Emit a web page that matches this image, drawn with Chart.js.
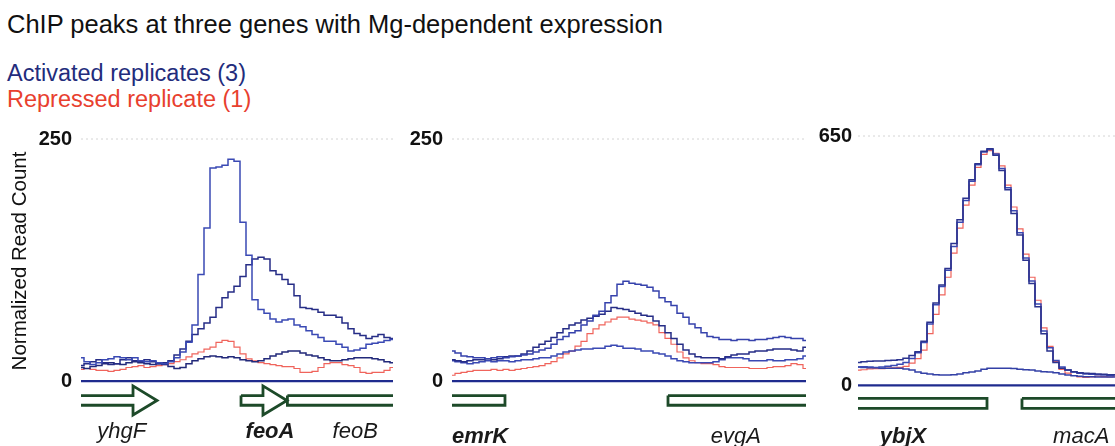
<!DOCTYPE html>
<html>
<head>
<meta charset="utf-8">
<script src="https://cdn.jsdelivr.net/npm/chart.js@4.4.1/dist/chart.umd.min.js"></script>
<style>
  html, body { margin: 0; padding: 0; background: #fff; }
  body { width: 1115px; height: 446px; position: relative; overflow: hidden; font-family: "Liberation Sans", Arial, Helvetica, sans-serif; }
  #title { position: absolute; left: 7px; top: 9px; font-size: 25.5px; line-height: 30px; color: #111; white-space: nowrap; }
  #legend { position: absolute; left: 7px; top: 60px; font-size: 23.5px; line-height: 26px; white-space: nowrap; }
  .act { color: #232c7c; }
  .rep { color: #e8402e; }
  canvas { position: absolute; top: 120px; }
</style>
</head>
<body>
<div id="title">ChIP peaks at three genes with Mg-dependent expression</div>
<div id="legend">
  <div class="act">Activated replicates (3)</div>
  <div class="rep">Repressed replicate (1)</div>
</div>
<canvas id="c1" width="400" height="326" style="left:0px"></canvas>
<canvas id="c2" width="415" height="326" style="left:400px"></canvas>
<canvas id="c3" width="320" height="326" style="left:800px"></canvas>
<script>
/* ChIP read counts, one value per sample bin */

// feoA region (bins 0..52)
const feoAct1 = [24, 20, 17, 19, 22, 23, 25, 24, 22, 24, 21, 20, 21, 19, 18, 20,
    24, 30, 40, 58, 110, 158, 220, 221, 223, 229, 227, 164, 130, 84, 74, 70, 64, 61, 63, 64,
    58, 56, 52, 48, 45, 41, 41, 38, 35, 31, 32, 34, 38, 39, 40, 42, 43];
const feoAct2 = [16, 18, 20, 22, 19, 17, 18, 22, 24, 21, 20, 22, 20, 18, 19, 21,
    27, 33, 41, 48, 54, 60, 66, 76, 86, 92, 98, 108, 120, 126, 128, 126, 114, 110, 105, 100,
    88, 76, 75, 74, 71, 68, 68, 66, 60, 54, 49, 47, 44, 46, 48, 45, 44];
const feoAct3 = [14, 13, 15, 16, 18, 19, 18, 17, 19, 20, 19, 18, 17, 18, 17, 15,
    13, 14, 18, 21, 23, 25, 26, 25, 24, 25, 24, 22, 21, 20, 21, 23, 26, 28, 30, 31,
    31, 29, 27, 26, 24, 22, 21, 21, 22, 23, 24, 24, 24, 23, 22, 20, 19];
const feoRep = [12, 13, 12, 11, 11, 10, 11, 12, 14, 15, 16, 14, 15, 16, 17, 18,
    20, 22, 25, 28, 30, 33, 35, 40, 42, 41, 35, 28, 23, 21, 19, 18, 17, 16, 15, 15,
    13, 9, 9, 10, 14, 18, 19, 19, 17, 16, 14, 9, 8, 9, 9, 11, 14];

// emrK region (bins 0..59)
const emrAct1 = [31, 29, 26, 25, 24, 24, 23, 24, 25, 24, 25, 26, 27, 28, 30, 32, 34, 38, 43, 46,
    50, 52, 58, 62, 68, 72, 81, 88, 100, 103, 101, 100, 99, 97, 93, 86, 82, 78, 70, 66,
    59, 55, 50, 46, 45, 43, 43, 42, 43, 43, 42, 43, 43, 44, 45, 46, 45, 44, 44, 42];
const emrAct2 = [22, 21, 20, 21, 22, 22, 23, 22, 23, 25, 26, 26, 28, 31, 35, 38, 41, 45, 50, 54,
    58, 60, 63, 65, 67, 69, 72, 76, 75, 74, 72, 70, 68, 67, 62, 57, 50, 44, 38, 32,
    28, 25, 24, 24, 24, 23, 25, 27, 28, 28, 30, 31, 31, 32, 33, 33, 33, 32, 31, 35];
const emrAct3 = [21, 20, 19, 18, 19, 20, 21, 20, 21, 21, 20, 21, 22, 22, 23, 24, 24, 26, 28, 30,
    31, 32, 33, 33, 34, 34, 36, 37, 36, 34, 34, 33, 31, 31, 29, 28, 26, 23, 21, 20,
    19, 19, 19, 19, 20, 22, 24, 24, 24, 23, 21, 21, 21, 22, 21, 21, 22, 22, 23, 26];
const emrRep = [6, 8, 9, 10, 11, 11, 11, 12, 11, 12, 11, 12, 13, 14, 15, 16, 18, 20, 24, 28,
    31, 36, 41, 49, 54, 58, 61, 64, 66, 66, 64, 63, 62, 60, 58, 50, 44, 38, 30, 24,
    21, 19, 18, 18, 17, 15, 14, 14, 14, 14, 13, 13, 13, 14, 15, 15, 16, 18, 17, 13];

// ybjX region (bins 0..43)
const ybjAct1 = [60, 62, 63, 64, 64, 65, 66, 67, 71, 78, 88, 115, 165, 215, 262, 305, 370, 432, 488, 536,
    578, 610, 617, 600, 560, 510, 448, 392, 326, 266, 205, 135, 90, 60, 45, 40, 36, 33, 32, 31,
    30, 29, 28, 28];
const ybjAct2 = [48, 49, 48, 47, 48, 50, 52, 55, 60, 70, 85, 112, 160, 210, 258, 300, 362, 425, 482, 532,
    575, 608, 615, 603, 565, 515, 455, 398, 332, 272, 212, 142, 98, 65, 48, 40, 35, 32, 30, 29,
    28, 27, 26, 27];
const ybjAct3 = [48, 47, 46, 46, 45, 45, 45, 45, 43, 40, 35, 32, 30, 28, 27, 27, 28, 30, 33, 35,
    38, 42, 45, 45, 45, 45, 44, 42, 41, 40, 38, 36, 35, 33, 30, 27, 25, 24, 23, 23,
    22, 22, 22, 22];
const ybjRep = [40, 41, 43, 44, 44, 45, 46, 47, 50, 58, 70, 92, 135, 185, 236, 282, 345, 410, 470, 522,
    568, 602, 612, 605, 572, 522, 465, 408, 342, 282, 222, 150, 102, 62, 42, 32, 26, 22, 21, 22,
    24, 23, 22, 24];

// y axis top values
const yTops = [250, 250, 650];

// genes (start / end in bins, beyond the panel = runs off the edge)
const feoGenes = ['yhgF', 'feoA', 'feoB'];
const feoGeneStart = [-5, 26.67, 34.4];
const feoGeneEnd = [12.67, 34.33, 70];
const emrGenes = ['emrK', 'evgA'];
const emrGeneStart = [-10, 36];
const emrGeneEnd = [8.83, 80];
const ybjGenes = ['ybjX', 'macA'];
const ybjGeneStart = [-10, 27.33];
const ybjGeneEnd = [21.5, 60];
const targetGenes = ['feoA', 'emrK', 'ybjX'];

const FONT = '"Liberation Sans", Arial, Helvetica, sans-serif';
const RED = '#f0645c';

// outline of one gene on the track axis
function genePath(start, end, arrow, xMax, tr) {
    const s = Math.max(start, 0);
    const e = Math.min(end, xMax);
    const pts = [{ x: s, y: tr.top }];
    if (arrow) {
        const h = end - tr.head;
        pts.push({ x: h, y: tr.top }, { x: h, y: tr.headTop }, { x: end, y: tr.mid },
                 { x: h, y: tr.headBot }, { x: h, y: tr.bot });
    } else if (end <= xMax) {
        pts.push({ x: e, y: tr.top }, { x: e, y: tr.bot });
    } else {
        pts.push({ x: e, y: tr.top }, { x: e, y: null }, { x: e, y: tr.bot });
    }
    pts.push({ x: s, y: tr.bot });
    if (start >= 0) pts.push({ x: s, y: tr.top });
    return pts;
}

// gene names under the track
const geneLabels = {
    id: 'geneLabels',
    afterDraw(chart, args, opts) {
        const ctx = chart.ctx;
        const xs = chart.scales.x;
        ctx.save();
        ctx.fillStyle = '#1a1a1a';
        ctx.textAlign = 'center';
        ctx.textBaseline = 'alphabetic';
        opts.names.forEach((name, i) => {
            const bold = targetGenes.includes(name);
            ctx.font = (bold ? 'italic bold ' : 'italic ') + '22px ' + FONT;
            ctx.fillText(name, xs.getPixelForValue(opts.at[i]), chart.chartArea.bottom + opts.dy);
        });
        ctx.restore();
    }
};

function makePanel(id, p) {
    const xMax = p.series[0].length - 1;
    const datasets = [];

    p.series.forEach((vals, k) => {
        datasets.push({
            data: vals.map((v, i) => ({ x: i, y: v })),
            borderColor: p.colors[k],
            borderWidth: k === p.series.length - 1 ? 1.2 : 1.5,
            stepped: 'middle',
            pointRadius: 0
        });
    });

    // zero line and dotted top line
    datasets.push({
        data: [{ x: 0, y: 0 }, { x: xMax, y: 0 }],
        borderColor: '#1f2b8e', borderWidth: 2.2, pointRadius: 0, clip: false
    });
    datasets.push({
        data: [{ x: 0, y: p.yMax }, { x: xMax, y: p.yMax }],
        borderColor: '#d4d4d4', borderWidth: 1, borderDash: [2, 3], pointRadius: 0, clip: false
    });

    p.genes.forEach((name, i) => {
        datasets.push({
            data: genePath(p.start[i], p.end[i], p.arrows[i], xMax, p.track),
            yAxisID: 'gy',
            borderColor: '#1d4a29', borderWidth: 2.8, pointRadius: 0,
            clip: false, spanGaps: false
        });
    });

    return new Chart(document.getElementById(id).getContext('2d'), {
        type: 'line',
        data: { datasets: datasets },
        options: {
            responsive: false,
            animation: false,
            events: [],
            layout: { padding: p.pad },
            scales: {
                x: { type: 'linear', min: 0, max: xMax, display: false },
                y: {
                    min: p.yMin, max: p.yMax,
                    afterBuildTicks: (s) => { s.ticks = [{ value: 0 }, { value: p.yMax }]; },
                    afterFit: (s) => { s.width = p.axisW; },
                    grid: { display: false, drawTicks: false },
                    border: { display: false },
                    ticks: {
                        padding: p.tickPad, color: '#111',
                        font: { family: FONT, size: 20, weight: 'bold', lineHeight: 1 }
                    },
                    title: {
                        display: !!p.yTitle, text: p.yTitle || '', color: '#111',
                        padding: { top: 8, bottom: 0 },
                        font: { family: FONT, size: 20.5 }
                    }
                },
                gy: { axis: 'y', position: 'left', min: p.gyMin, max: p.gyMin + 252, display: false }
            },
            plugins: {
                legend: { display: false },
                tooltip: { enabled: false },
                geneLabels: { names: p.genes, at: p.labelAt, dy: p.labelDy }
            }
        },
        plugins: [geneLabels]
    });
}

const track12 = { top: -15, bot: -25, headTop: -5, headBot: -35, mid: -20, head: 4 };

makePanel('c1', {
    series: [feoAct1, feoAct2, feoAct3, feoRep],
    colors: ['#3a49b4', '#262d86', '#22297a', RED],
    yMin: -2, yMax: yTops[0], gyMin: -2,
    genes: feoGenes, start: feoGeneStart, end: feoGeneEnd, arrows: [true, true, false],
    labelAt: [6.8, 31.5, 45.7], labelDy: 55,
    track: track12,
    axisW: 81, tickPad: 9,
    pad: { top: 11, right: 7, bottom: 63, left: 0 },
    yTitle: 'Normalized Read Count'
});

makePanel('c2', {
    series: [emrAct1, emrAct2, emrAct3, emrRep],
    colors: ['#3642ac', '#262d86', '#3a49b4', RED],
    yMin: -2, yMax: yTops[1], gyMin: -2,
    genes: emrGenes, start: emrGeneStart, end: emrGeneEnd, arrows: [false, false],
    labelAt: [4.67, 47.3], labelDy: 60,
    track: track12,
    axisW: 52, tickPad: 9,
    pad: { top: 11, right: 9, bottom: 63, left: 0 }
});

makePanel('c3', {
    series: [ybjAct1, ybjAct2, ybjAct3, ybjRep],
    colors: ['#2b338f', '#3a49b4', '#3340a6', RED],
    yMin: -4, yMax: yTops[2], gyMin: -1.5,
    genes: ybjGenes, start: ybjGeneStart, end: ybjGeneEnd, arrows: [false, false],
    labelAt: [7.5, 37.2], labelDy: 56,
    track: { top: -13, bot: -23, headTop: -3, headBot: -33, mid: -18, head: 4 },
    axisW: 58, tickPad: 6,
    pad: { top: 15, right: 4, bottom: 59, left: 0 }
});
</script>
</body>
</html>
